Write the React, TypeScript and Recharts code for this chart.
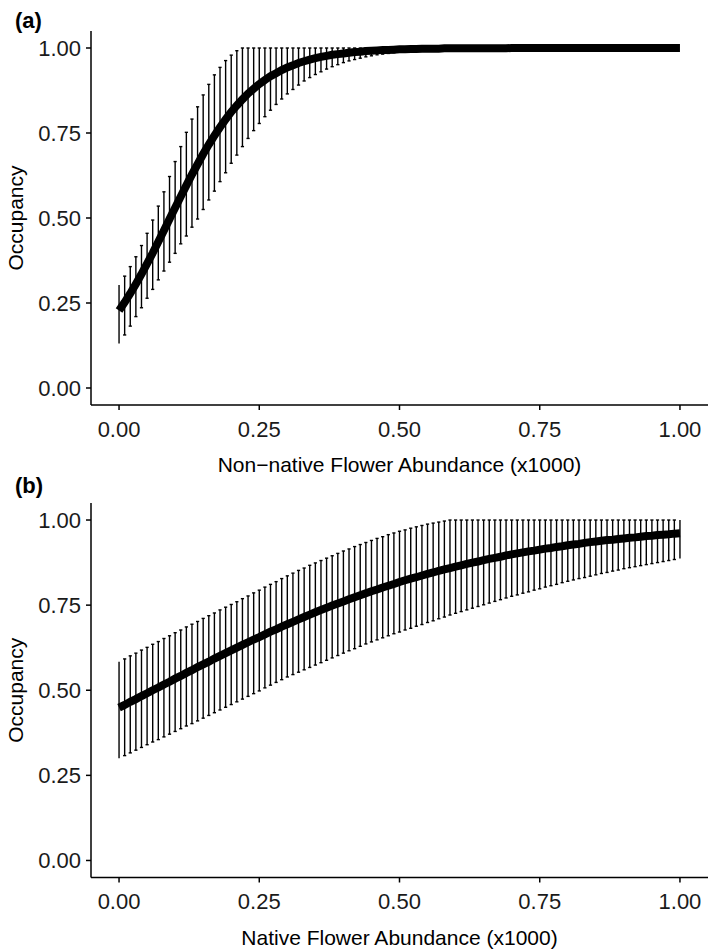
import React from 'react';
import { ComposedChart, Line, XAxis, YAxis, ErrorBar, Label } from 'recharts';

const xs = [
  0.0, 0.01, 0.02, 0.03, 0.04, 0.05, 0.06, 0.07, 0.08, 0.09,
  0.1, 0.11, 0.12, 0.13, 0.14, 0.15, 0.16, 0.17, 0.18, 0.19,
  0.2, 0.21, 0.22, 0.23, 0.24, 0.25, 0.26, 0.27, 0.28, 0.29,
  0.3, 0.31, 0.32, 0.33, 0.34, 0.35, 0.36, 0.37, 0.38, 0.39,
  0.4, 0.41, 0.42, 0.43, 0.44, 0.45, 0.46, 0.47, 0.48, 0.49,
  0.5, 0.51, 0.52, 0.53, 0.54, 0.55, 0.56, 0.57, 0.58, 0.59,
  0.6, 0.61, 0.62, 0.63, 0.64, 0.65, 0.66, 0.67, 0.68, 0.69,
  0.7, 0.71, 0.72, 0.73, 0.74, 0.75, 0.76, 0.77, 0.78, 0.79,
  0.8, 0.81, 0.82, 0.83, 0.84, 0.85, 0.86, 0.87, 0.88, 0.89,
  0.9, 0.91, 0.92, 0.93, 0.94, 0.95, 0.96, 0.97, 0.98, 0.99,
  1.0,
];

// Panel (a): Non-native flower abundance
const aMean = [
  0.228, 0.252, 0.278, 0.306, 0.335, 0.366, 0.397, 0.43, 0.463, 0.497,
  0.53, 0.563, 0.596, 0.628, 0.658, 0.688, 0.716, 0.742, 0.767, 0.79,
  0.812, 0.831, 0.849, 0.866, 0.88, 0.894, 0.906, 0.917, 0.926, 0.935,
  0.943, 0.949, 0.956, 0.961, 0.966, 0.97, 0.974, 0.977, 0.98, 0.982,
  0.984, 0.986, 0.988, 0.989, 0.991, 0.992, 0.993, 0.994, 0.994, 0.995,
  0.996, 0.996, 0.997, 0.997, 0.998, 0.998, 0.998, 0.998, 0.999, 0.999,
  0.999, 0.999, 0.999, 0.999, 0.999, 0.999, 0.999, 0.999, 0.999, 0.999,
  1.0, 1.0, 1.0, 1.0, 1.0, 1.0, 1.0, 1.0, 1.0, 1.0,
  1.0, 1.0, 1.0, 1.0, 1.0, 1.0, 1.0, 1.0, 1.0, 1.0,
  1.0, 1.0, 1.0, 1.0, 1.0, 1.0, 1.0, 1.0, 1.0, 1.0,
  1.0,
];
const aLower = [
  0.131, 0.156, 0.182, 0.21, 0.236, 0.264, 0.29, 0.318, 0.344, 0.37,
  0.396, 0.424, 0.447, 0.473, 0.497, 0.525, 0.553, 0.579, 0.607, 0.633,
  0.661, 0.685, 0.71, 0.734, 0.757, 0.778, 0.798, 0.817, 0.834, 0.85,
  0.865, 0.878, 0.891, 0.903, 0.913, 0.922, 0.93, 0.938, 0.945, 0.951,
  0.957, 0.962, 0.966, 0.97, 0.974, 0.977, 0.98, 0.982, 0.984, 0.986,
  0.988, 0.989, 0.99, 0.991, 0.992, 0.993, 0.994, 0.995, 0.995, 0.996,
  0.996, 0.997, 0.997, 0.997, 0.998, 0.998, 0.998, 0.998, 0.998, 0.999,
  0.999, 0.999, 0.999, 0.999, 0.999, 0.999, 0.999, 0.999, 0.999, 0.999,
  0.999, 0.999, 0.999, 0.999, 0.999, 1.0, 1.0, 1.0, 1.0, 1.0,
  1.0, 1.0, 1.0, 1.0, 1.0, 1.0, 1.0, 1.0, 1.0, 1.0,
  1.0,
];
const aUpper = [
  0.303, 0.329, 0.357, 0.386, 0.419, 0.455, 0.494, 0.535, 0.577, 0.622,
  0.666, 0.71, 0.752, 0.791, 0.827, 0.862, 0.893, 0.921, 0.943, 0.963,
  0.979, 0.992, 1.0, 1.0, 1.0, 1.0, 1.0, 1.0, 1.0, 1.0,
  1.0, 1.0, 1.0, 1.0, 1.0, 1.0, 1.0, 1.0, 1.0, 1.0,
  1.0, 1.0, 1.0, 1.0, 1.0, 1.0, 1.0, 1.0, 1.0, 1.0,
  1.0, 1.0, 1.0, 1.0, 1.0, 1.0, 1.0, 1.0, 1.0, 1.0,
  1.0, 1.0, 1.0, 1.0, 1.0, 1.0, 1.0, 1.0, 1.0, 1.0,
  1.0, 1.0, 1.0, 1.0, 1.0, 1.0, 1.0, 1.0, 1.0, 1.0,
  1.0, 1.0, 1.0, 1.0, 1.0, 1.0, 1.0, 1.0, 1.0, 1.0,
  1.0, 1.0, 1.0, 1.0, 1.0, 1.0, 1.0, 1.0, 1.0, 1.0,
  1.0,
];

// Panel (b): Native flower abundance
const bMean = [
  0.449, 0.457, 0.466, 0.474, 0.483, 0.491, 0.5, 0.508, 0.517, 0.525,
  0.534, 0.542, 0.551, 0.559, 0.568, 0.576, 0.584, 0.593, 0.601, 0.609,
  0.617, 0.625, 0.633, 0.641, 0.649, 0.656, 0.664, 0.672, 0.679, 0.687,
  0.694, 0.701, 0.708, 0.715, 0.722, 0.729, 0.736, 0.742, 0.749, 0.755,
  0.761, 0.767, 0.773, 0.779, 0.785, 0.791, 0.796, 0.802, 0.807, 0.812,
  0.818, 0.823, 0.828, 0.832, 0.837, 0.842, 0.846, 0.851, 0.855, 0.859,
  0.863, 0.867, 0.871, 0.875, 0.878, 0.882, 0.886, 0.889, 0.892, 0.896,
  0.899, 0.902, 0.905, 0.908, 0.91, 0.913, 0.916, 0.918, 0.921, 0.923,
  0.926, 0.928, 0.93, 0.933, 0.935, 0.937, 0.939, 0.941, 0.942, 0.944,
  0.946, 0.948, 0.949, 0.951, 0.953, 0.954, 0.956, 0.957, 0.958, 0.96,
  0.961,
];
const bLower = [
  0.3, 0.308, 0.316, 0.324, 0.332, 0.34, 0.348, 0.355, 0.363, 0.371,
  0.379, 0.387, 0.395, 0.402, 0.41, 0.418, 0.426, 0.434, 0.442, 0.45,
  0.458, 0.466, 0.474, 0.482, 0.49, 0.498, 0.507, 0.515, 0.523, 0.531,
  0.539, 0.546, 0.553, 0.56, 0.567, 0.574, 0.581, 0.588, 0.595, 0.602,
  0.609, 0.616, 0.622, 0.629, 0.636, 0.642, 0.648, 0.654, 0.66, 0.666,
  0.671, 0.677, 0.682, 0.688, 0.693, 0.699, 0.704, 0.71, 0.715, 0.721,
  0.726, 0.731, 0.736, 0.741, 0.746, 0.751, 0.756, 0.761, 0.766, 0.771,
  0.776, 0.78, 0.785, 0.789, 0.794, 0.798, 0.803, 0.807, 0.811, 0.816,
  0.82, 0.824, 0.828, 0.831, 0.835, 0.839, 0.843, 0.846, 0.85, 0.853,
  0.857, 0.86, 0.863, 0.866, 0.869, 0.872, 0.875, 0.878, 0.881, 0.884,
  0.887,
];
const bUpper = [
  0.584, 0.592, 0.601, 0.609, 0.618, 0.626, 0.635, 0.643, 0.652, 0.66,
  0.669, 0.677, 0.686, 0.694, 0.702, 0.711, 0.719, 0.727, 0.736, 0.744,
  0.752, 0.76, 0.769, 0.777, 0.786, 0.794, 0.803, 0.811, 0.819, 0.828,
  0.836, 0.844, 0.852, 0.859, 0.867, 0.874, 0.881, 0.888, 0.895, 0.902,
  0.909, 0.915, 0.922, 0.928, 0.934, 0.94, 0.946, 0.951, 0.957, 0.962,
  0.967, 0.971, 0.976, 0.98, 0.984, 0.988, 0.991, 0.994, 0.997, 1.0,
  1.0, 1.0, 1.0, 1.0, 1.0, 1.0, 1.0, 1.0, 1.0, 1.0,
  1.0, 1.0, 1.0, 1.0, 1.0, 1.0, 1.0, 1.0, 1.0, 1.0,
  1.0, 1.0, 1.0, 1.0, 1.0, 1.0, 1.0, 1.0, 1.0, 1.0,
  1.0, 1.0, 1.0, 1.0, 1.0, 1.0, 1.0, 1.0, 1.0, 1.0,
  1.0,
];

const tickValues = [0, 0.25, 0.5, 0.75, 1];
const tickLabels = ['0.00', '0.25', '0.50', '0.75', '1.00'];

const FONT = '"Liberation Sans", Arial, Helvetica, sans-serif';

type Row = { x: number; y: number; err: [number, number] };

function buildRows(mean: number[], lower: number[], upper: number[]): Row[] {
  return xs.map((x, i) => ({
    x,
    y: mean[i],
    err: [Math.max(0, mean[i] - lower[i]), Math.max(0, upper[i] - mean[i])] as [number, number],
  }));
}

const fmt = (v: number) => {
  const k = tickValues.indexOf(v);
  return k >= 0 ? tickLabels[k] : String(v);
};

type PanelProps = {
  letter: string;
  letterY: number;
  xTitle: string;
  rows: Row[];
  top: number;
  height: number;
  marginTop: number;
  xAxisHeight: number;
};

function Panel({ letter, letterY, xTitle, rows, top, height, marginTop, xAxisHeight }: PanelProps) {
  const capped = rows.filter((_, i) => i > 0 && i < rows.length - 1);
  const ends = rows.filter((_, i) => i === 0 || i === rows.length - 1);

  const xTitleContent = (p: any) => {
    const vb = p.viewBox || {};
    return (
      <text
        x={vb.x + vb.width / 2}
        y={vb.y + 60}
        dy="0.35em"
        textAnchor="middle"
        fontFamily={FONT}
        fontSize={21}
        fill="#000"
      >
        {xTitle}
      </text>
    );
  };

  const yTitleContent = (p: any) => {
    const vb = p.viewBox || {};
    const cx = vb.x + 16;
    const cy = vb.y + vb.height / 2;
    return (
      <g>
        <text
          x={cx}
          y={cy}
          dy="0.35em"
          textAnchor="middle"
          transform={`rotate(-90, ${cx}, ${cy})`}
          fontFamily={FONT}
          fontSize={21}
          fill="#000"
        >
          Occupancy
        </text>
        <text x={15} y={letterY} fontFamily={FONT} fontSize={22} fontWeight="bold" fill="#000">
          {letter}
        </text>
      </g>
    );
  };

  return (
    <div style={{ position: 'absolute', left: 0, top }}>
      <ComposedChart
        width={709}
        height={height}
        margin={{ top: marginTop, right: 1, bottom: 0, left: 0 }}
      >
        <XAxis
          type="number"
          dataKey="x"
          domain={[-0.05, 1.05]}
          allowDataOverflow
          ticks={tickValues}
          interval={0}
          tickFormatter={fmt}
          height={xAxisHeight}
          tickSize={5}
          tickMargin={11}
          axisLine={{ stroke: '#000', strokeWidth: 1.5 }}
          tickLine={{ stroke: '#000', strokeWidth: 1.5 }}
          tick={{ fontSize: 22, fill: '#1a1a1a', fontFamily: FONT }}
        >
          <Label content={xTitleContent} />
        </XAxis>
        <YAxis
          type="number"
          dataKey="y"
          domain={[-0.05, 1.05]}
          allowDataOverflow
          ticks={tickValues}
          interval={0}
          tickFormatter={fmt}
          width={91}
          tickSize={5}
          tickMargin={5}
          axisLine={{ stroke: '#000', strokeWidth: 1.5 }}
          tickLine={{ stroke: '#000', strokeWidth: 1.5 }}
          tick={{ fontSize: 22, fill: '#1a1a1a', fontFamily: FONT }}
        >
          <Label content={yTitleContent} />
        </YAxis>
        <Line
          data={capped}
          dataKey="y"
          stroke="none"
          dot={false}
          activeDot={false}
          legendType="none"
          isAnimationActive={false}
        >
          <ErrorBar dataKey="err" direction="y" width={1.6} stroke="#000" strokeWidth={1.4} isAnimationActive={false} />
        </Line>
        <Line
          data={ends}
          dataKey="y"
          stroke="none"
          dot={false}
          activeDot={false}
          legendType="none"
          isAnimationActive={false}
        >
          <ErrorBar dataKey="err" direction="y" width={0} stroke="#000" strokeWidth={1.4} isAnimationActive={false} />
        </Line>
        <Line
          data={rows}
          dataKey="y"
          stroke="#000"
          strokeWidth={8}
          dot={false}
          activeDot={false}
          legendType="none"
          isAnimationActive={false}
        />
      </ComposedChart>
    </div>
  );
}

export default function App() {
  const rowsA = buildRows(aMean, aLower, aUpper);
  const rowsB = buildRows(bMean, bLower, bUpper);
  return (
    <div style={{ position: 'absolute', left: 0, top: 0, width: 709, height: 952, background: '#fff' }}>
      <Panel
        letter="(a)"
        letterY={28}
        xTitle="Non−native Flower Abundance (x1000)"
        rows={rowsA}
        top={0}
        height={476}
        marginTop={31}
        xAxisHeight={71}
      />
      <Panel
        letter="(b)"
        letterY={27}
        xTitle="Native Flower Abundance (x1000)"
        rows={rowsB}
        top={466}
        height={486}
        marginTop={37}
        xAxisHeight={74.5}
      />
    </div>
  );
}
